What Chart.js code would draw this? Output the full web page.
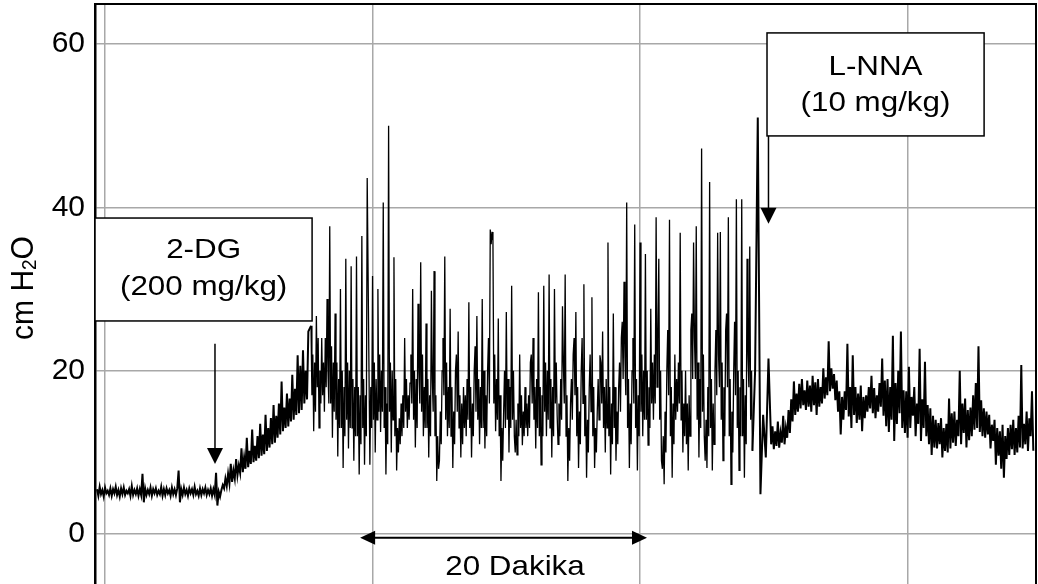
<!DOCTYPE html>
<html>
<head>
<meta charset="utf-8">
<script src="https://cdn.jsdelivr.net/npm/chart.js@4.4.1/dist/chart.umd.min.js"></script>
<style>
  html, body { margin: 0; padding: 0; background: #fff; }
  #wrap { width: 1038px; height: 584px; }
</style>
</head>
<body>
<div id="wrap"><canvas id="pressureChart"></canvas></div>
<script>
// pressure in cm H2O
// each piece has its own start time and sample step (minutes)
const baseline = [
    5.5, 4.7, 5.8, 4.9, 5.4, 4.6, 5.7, 5.0, 5.3, 4.8,
    5.6, 4.7, 5.5, 5.0, 5.8, 4.8, 5.4, 4.6, 5.6, 4.9,
    5.7, 4.8, 5.3, 5.0, 5.5, 4.7, 5.9, 4.8, 5.4, 4.9,
    5.6, 4.7, 5.5, 4.8, 7.4, 3.9,
    5.6, 4.8, 5.4, 4.9, 5.7, 4.7, 5.5, 5.0, 5.6, 4.8,
    5.3, 4.9, 5.8, 4.7, 5.5, 4.8, 5.6, 5.0, 5.4, 4.7,
    5.7, 4.9, 5.5, 4.8, 5.6, 7.8, 3.9,
    5.5, 4.8, 5.7, 4.9, 5.4, 4.7, 5.6, 5.0, 5.5, 4.8,
    5.8, 4.9, 5.3, 4.7, 5.6, 4.8, 5.5, 5.0, 5.7, 4.8,
    5.4, 4.9, 5.6, 4.7, 5.5, 4.8, 7.5, 3.5, 5.2, 4.6];
const riseAfter2DG = [
    5.4, 6.0, 5.6, 6.8, 5.9, 7.4, 6.2, 8.6, 6.4, 7.8,
    6.8, 9.2, 7.2, 8.4, 7.5, 10.5, 7.6, 9.4, 8.0, 11.8,
    8.2, 10.2, 8.6, 12.8, 8.8, 10.8, 9.0, 12.0, 9.3, 13.5,
    9.6, 12.2, 9.8, 14.6, 10.2, 13.0, 10.6, 14.2, 11.0, 15.8,
    11.2, 14.5, 11.8, 16.0, 12.2, 18.7, 12.6, 15.5, 13.0, 17.2,
    13.2, 16.6, 13.8, 19.5, 14.0, 17.8, 14.6, 21.9, 14.8, 20.6,
    15.2, 22.5, 16.0, 20.0, 16.5, 24.8];
const earlyBurst = [
    25.5, 17, 22, 12.6, 21, 15, 26.7, 18, 24, 13.0, 20, 16, 24.0, 17, 21, 15.0, 24, 18,
    28.8, 20, 16, 37.7, 16, 23, 11.8, 21, 15, 27.0, 14, 21, 9.5, 19, 13, 30.0, 13, 20,
    8.1, 18, 12, 33.7, 14, 21, 10.5, 20, 13, 32.8, 13, 19, 9.0, 18, 12, 34.0, 12, 18,
    7.3, 17, 11, 36.5, 13, 19, 8.5, 17, 12, 43.6];
const burst = [
    8.5, 18, 13, 31.6, 14, 21, 10.0, 19, 14, 30.0, 15, 22, 12.5, 20, 15, 40.6, 13, 18, 7.3, 16, 11, 50.0, 15, 21, 10.0, 20, 14, 33.9, 12, 19,
    7.8, 13, 10, 14.2, 11, 16, 12.0, 17, 13, 24.0, 15, 19, 13.0, 17, 14, 18.5, 22, 16, 30.0, 14, 20, 10.6, 19, 13, 28.2, 20, 16, 33.3, 15, 22,
    12.0, 18, 13, 25.8, 13, 19, 9.4, 17, 12, 29.8, 19, 15, 32.2, 12, 17, 6.5, 12, 8, 9.0, 15, 11, 20.0, 24, 17, 34.0, 14, 21, 12.0, 18, 13,
    27.6, 12, 18, 8.1, 15, 11, 20.0, 22, 15, 24.8, 13, 17, 9.4, 16, 11, 18.0, 13, 17, 12.0, 19, 14, 28.4, 13, 18, 9.4, 16, 12, 20.0, 23, 15,
    26.7, 14, 19, 11.0, 18, 13, 28.8, 13, 20, 10.5, 17, 12, 20.0, 24, 16, 37.3, 35.5, 37.0, 36.0, 16, 22, 12.6, 19, 14, 26.4, 12, 17, 6.5, 13, 9,
    15.0, 20, 13, 27.2, 14, 19, 10.0, 18, 13, 30.4, 14, 20, 12.0, 10, 14, 9.7, 16, 12, 22.0, 13, 17, 10.9, 15, 12, 18.0, 13, 16, 12.0, 17, 13,
    21.0, 22, 16, 24.0, 14, 18, 10.5, 19, 13, 29.6, 12, 18, 8.5, 17, 12, 30.4, 15, 21, 12.0, 20, 14, 31.8, 13, 19, 9.4, 18, 12, 30.0, 16, 21,
    14.6, 11, 16, 12.0, 19, 14, 27.9, 21, 16, 31.8, 12, 17, 6.5, 13, 9, 16.0, 19, 14, 22.0, 24, 17, 27.2, 12, 18, 8.1, 15, 11, 20.0, 24, 16,
    30.6, 12, 17, 6.9, 14, 10, 18.0, 22, 15, 29.0, 12, 18, 8.1, 13, 10, 15.0, 19, 14, 21.9, 21, 16, 24.8, 13, 18, 10.0, 19, 13, 35.7, 12, 18,
    7.3, 16, 11, 27.0, 13, 18, 9.0, 15, 11, 18.0, 21, 15, 24.0, 26, 19, 30.9, 22, 17, 40.6, 13, 19, 8.1, 16, 11, 20.0, 24, 16, 37.9, 13, 19,
    7.8, 17, 12, 35.7, 15, 22, 12.0, 20, 14, 34.3, 14, 20, 10.9, 18, 13, 27.6, 16, 21, 14.0, 22, 16, 38.8, 18, 24, 33.7, 14, 20, 9.0, 8, 12,
    6.1, 15, 10, 20.0, 25, 17, 38.5, 12, 18, 6.9, 16, 11, 22.0, 14, 19, 15.0, 21, 16, 36.9, 14, 20, 10.0, 16, 12, 20.0, 11, 16, 7.8, 17, 12,
    25.0, 27, 19, 35.7, 24, 19, 37.7, 14, 21, 9.4, 19, 13, 47.2, 15, 22, 12.0, 9, 14, 8.1, 18, 12, 43.1, 13, 19, 7.8, 16, 11, 20.0, 25, 17,
    36.9, 22, 18, 37.0, 14, 21, 9.0, 18, 12, 25.0, 27, 18, 38.8, 12, 19, 6.1, 15, 10, 20.0, 26, 17, 41.0, 13, 20, 7.8, 18, 12, 41.0, 12, 19,
    6.9, 17, 11, 33.7, 22, 18, 35.2, 14, 20, 10.2];
const atLNNA = [20.0, 51.0, 4.9, 14.6, 9.4, 21.5];
const afterLNNA = [
    11.0, 13.2, 10.4, 12.6, 10.8, 13.8, 10.6, 12.4, 11.2, 14.5,
    11.0, 13.0, 11.8, 15.2, 12.4, 16.5, 13.8, 18.7, 14.6, 17.2,
    15.0, 18.4, 15.4, 19.0, 15.8, 17.6, 15.2, 18.8, 15.6, 18.2,
    15.0, 19.4, 15.8, 18.6, 14.6, 19.0, 15.6, 18.0, 16.0, 20.3,
    16.6, 19.2, 17.0, 23.6, 17.5, 20.3, 17.8, 19.6, 16.4, 18.8,
    15.0, 17.5, 12.2, 16.8, 14.0, 17.5, 15.2, 23.3, 14.4, 18.0,
    13.0, 21.9, 14.6, 18.0, 13.6, 17.2, 14.0, 18.2, 12.6, 16.8,
    14.2, 17.0, 15.0, 18.0, 15.4, 19.4, 14.8, 17.9, 14.2, 17.0,
    15.0, 18.5, 15.6, 21.5, 14.5, 18.8, 13.2, 19.0, 12.5, 18.0,
    14.0, 24.3, 11.4, 18.5, 13.5, 20.0, 14.8, 24.8, 13.0, 17.6,
    12.4, 17.5, 11.8, 20.5, 13.0, 16.8, 14.5, 18.0, 12.0, 16.0,
    13.5, 22.7, 11.4, 16.5, 13.0, 21.1, 12.0, 15.8, 11.0, 15.4,
    9.7, 14.5, 10.6, 14.0, 10.5, 13.6, 11.0, 14.2, 9.4, 13.0,
    10.2, 13.5, 10.0, 16.6, 10.5, 14.8, 11.2, 15.0, 10.8, 14.0,
    12.0, 20.0, 11.0, 16.0, 12.4, 16.6, 10.6, 15.2, 11.5, 15.5,
    12.0, 17.0, 12.8, 18.5, 13.0, 23.0, 12.5, 16.4, 12.0, 15.4,
    11.8, 15.0, 12.2, 14.6, 10.5, 13.4, 11.4, 14.0, 8.5, 13.0,
    9.6, 12.6, 8.0, 13.4, 6.9, 12.0, 9.2, 13.0, 9.7, 13.4,
    10.4, 14.0, 9.7, 13.0, 10.0, 14.5, 10.6, 20.7, 10.5, 13.5,
    11.0, 15.0, 10.2, 14.2, 12.0, 17.5, 10.2];

const pieces = [
    { start: -0.6, step: 0.1, values: baseline },
    { start: 8.7, step: 0.1, values: riseAfter2DG },
    { start: 15.4, step: 0.2 / 3, values: earlyBurst },
    { start: 19.8, step: 0.2 / 3, values: burst },
    { start: 48.6, step: 0.2, values: atLNNA },
    { start: 49.8, step: 0.1, values: afterLNNA }
];
const BURST_FROM = 15.4, BURST_TO = 48.4;   // densely sampled part, drawn thinner

const yTicks = [0, 20, 40, 60];
const xGrid = [0, 20, 40, 60];   // 20 min apart, no labels

// notes on the chart, in minutes / cm H2O
const boxes = [
    { lines: ['2-DG', '(200 mg/kg)'], x0: -0.75, x1: 15.48, top: 38.7, bottom: 26.1, cx: 7.37, baselines: [33.8, 29.3] },
    { lines: ['L-NNA', '(10 mg/kg)'], x0: 49.49, x1: 65.72, top: 61.36, bottom: 48.75, cx: 57.6, baselines: [56.2, 51.8] }
];
const downArrows = [
    { x: 8.22, from: 23.3, to: 8.6 },
    { x: 49.6, from: 48.75, to: 38.0 }
];
const span = { from: 19.07, to: 40.52, y: -0.45, label: '20 Dakika', labelX: 30.65, labelY: -4.97 };

const FONT = '"Liberation Sans", Arial, sans-serif';

const points = [];
pieces.forEach(p => p.values.forEach((v, i) => points.push({ x: p.start + i * p.step, y: v })));

function wideText(ctx, text, x, y) {
    ctx.save();
    ctx.translate(x, y);
    ctx.scale(1.12, 1);
    ctx.fillText(text, 0, 0);
    ctx.restore();
}

function head(ctx, tipX, tipY, dx, dy, len, half) {
    // dx,dy = unit direction of the arrow
    ctx.beginPath();
    ctx.moveTo(tipX, tipY);
    ctx.lineTo(tipX - dx * len - dy * half, tipY - dy * len + dx * half);
    ctx.lineTo(tipX - dx * len + dy * half, tipY - dy * len - dx * half);
    ctx.closePath();
    ctx.fill();
}

const overlay = {
    id: 'overlay',
    afterDraw(chart) {
        const ctx = chart.ctx;
        const xs = chart.scales.x, ys = chart.scales.y;
        const a = chart.chartArea;
        ctx.save();
        ctx.strokeStyle = '#000';
        ctx.fillStyle = '#000';

        // top and right frame
        ctx.lineWidth = 2;
        ctx.beginPath();
        ctx.moveTo(a.left, a.top);
        ctx.lineTo(a.right, a.top);
        ctx.lineTo(a.right, a.bottom);
        ctx.stroke();

        // boxes
        ctx.font = '28px ' + FONT;
        ctx.textAlign = 'center';
        ctx.textBaseline = 'alphabetic';
        boxes.forEach(b => {
            const l = xs.getPixelForValue(b.x0), r = xs.getPixelForValue(b.x1);
            const t = ys.getPixelForValue(b.top), btm = ys.getPixelForValue(b.bottom);
            ctx.fillStyle = '#fff';
            ctx.fillRect(l, t, r - l, btm - t);
            ctx.lineWidth = 1.5;
            ctx.strokeRect(l, t, r - l, btm - t);
            ctx.fillStyle = '#000';
            b.lines.forEach((txt, i) => wideText(ctx, txt, xs.getPixelForValue(b.cx), ys.getPixelForValue(b.baselines[i])));
        });

        // down arrows
        downArrows.forEach(d => {
            const x = xs.getPixelForValue(d.x);
            const y0 = ys.getPixelForValue(d.from), y1 = ys.getPixelForValue(d.to);
            ctx.lineWidth = 1.5;
            ctx.beginPath();
            ctx.moveTo(x, y0);
            ctx.lineTo(x, y1 - 12);
            ctx.stroke();
            head(ctx, x, y1, 0, 1, 16, 8);
        });

        // 20 min span
        const sx0 = xs.getPixelForValue(span.from), sx1 = xs.getPixelForValue(span.to);
        const sy = ys.getPixelForValue(span.y);
        ctx.lineWidth = 2;
        ctx.beginPath();
        ctx.moveTo(sx0 + 10, sy);
        ctx.lineTo(sx1 - 10, sy);
        ctx.stroke();
        head(ctx, sx0, sy, -1, 0, 15, 7);
        head(ctx, sx1, sy, 1, 0, 15, 7);
        wideText(ctx, span.label, xs.getPixelForValue(span.labelX), ys.getPixelForValue(span.labelY));

        // y title with subscript
        ctx.translate(33, 288);
        ctx.rotate(-Math.PI / 2);
        ctx.scale(1, 1.06);
        ctx.textAlign = 'left';
        const big = '30px ' + FONT, small = '19px ' + FONT;
        ctx.font = big;
        const w1 = ctx.measureText('cm H').width, w3 = ctx.measureText('O').width;
        ctx.font = small;
        const w2 = ctx.measureText('2').width;
        let px = -(w1 + w2 + w3) / 2;
        ctx.font = big;
        ctx.fillText('cm H', px, 0);
        px += w1;
        ctx.font = small;
        ctx.fillText('2', px, 3);
        px += w2;
        ctx.font = big;
        ctx.fillText('O', px, 0);
        ctx.restore();
    }
};

new Chart(document.getElementById('pressureChart'), {
    type: 'line',
    data: {
        datasets: [{
            label: 'cm H2O',
            data: points,
            borderColor: '#000',
            borderWidth: 2,
            pointRadius: 0,
            tension: 0,
            fill: false,
            segment: {
                borderWidth: c => (c.p0.parsed.x >= BURST_FROM && c.p1.parsed.x <= BURST_TO) ? 1.3 : 2
            }
        }]
    },
    options: {
        responsive: true,
        maintainAspectRatio: false,
        animation: false,
        layout: { padding: { top: 4, right: 2, left: 0, bottom: 0 } },
        plugins: {
            legend: { display: false },
            tooltip: { enabled: false }
        },
        scales: {
            x: {
                type: 'linear',
                min: -0.75,
                max: 69.6,
                afterBuildTicks: s => { s.ticks = xGrid.map(v => ({ value: v })); },
                afterFit: s => { s.height = 0; },
                ticks: { display: false },
                grid: { color: '#a8a8a8', lineWidth: 1.5, drawTicks: false },
                border: { display: false }
            },
            y: {
                min: -6.1,
                max: 64.9,
                afterBuildTicks: s => { s.ticks = yTicks.map(v => ({ value: v })); },
                afterFit: s => { s.width = 95; s.paddingTop = 0; s.paddingBottom = 0; },
                ticks: { color: '#000', font: { family: FONT, size: 30 }, padding: 10 },
                grid: { color: '#a8a8a8', lineWidth: 1.5, drawTicks: false },
                border: { color: '#000', width: 2.5 }
            }
        }
    },
    plugins: [overlay]
});
</script>
</body>
</html>
